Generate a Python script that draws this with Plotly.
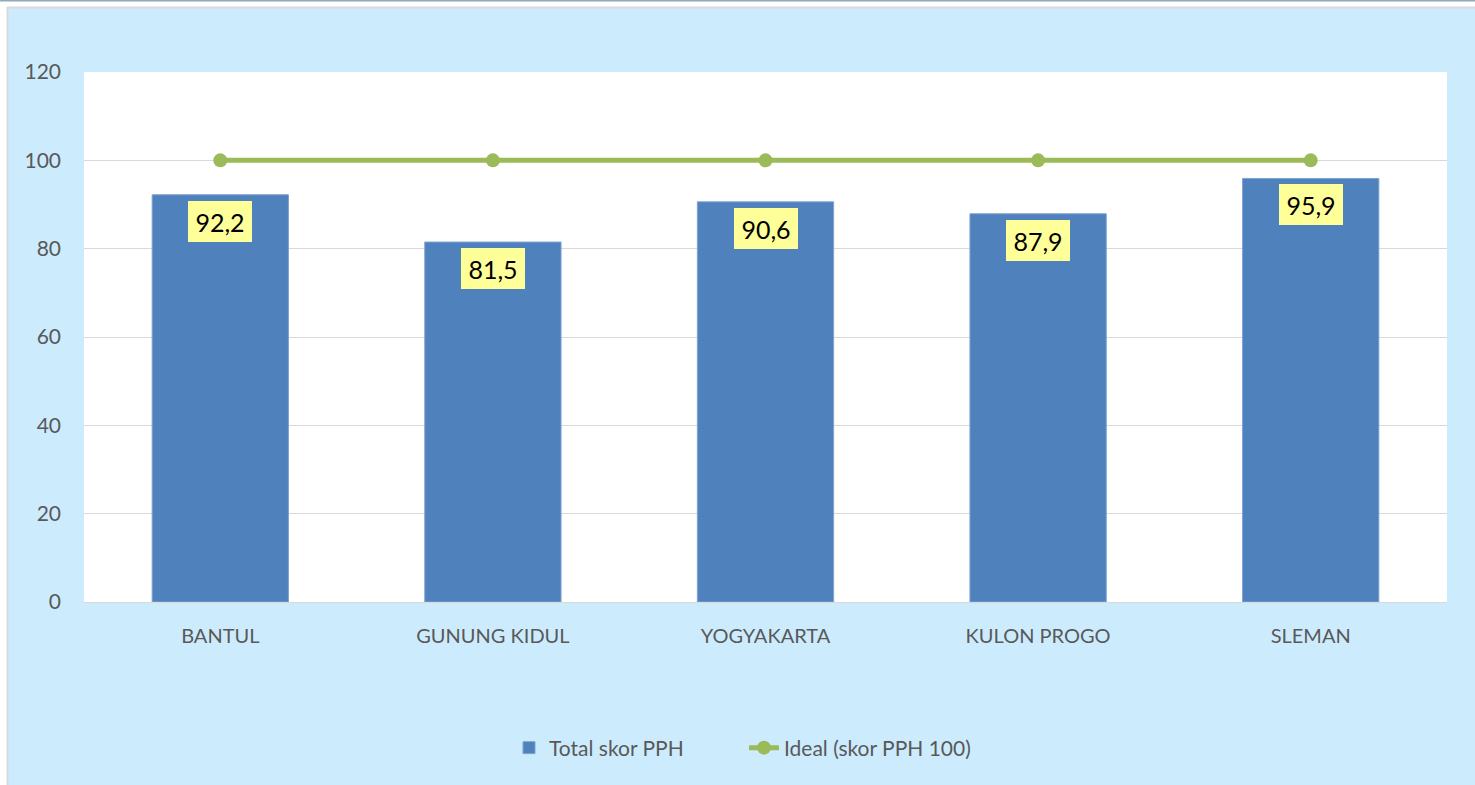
import plotly.graph_objects as go

categories = ["BANTUL", "GUNUNG KIDUL", "YOGYAKARTA", "KULON PROGO", "SLEMAN"]
total_skor = [92.2, 81.5, 90.6, 87.9, 95.9]
ideal = [100, 100, 100, 100, 100]
y_ticks = [0, 20, 40, 60, 80, 100, 120]

W, H = 1475, 785
L, R, T, B = 84, 1447, 72, 602  # plot area in pixels


def px(x):
    return (x - L) / (R - L)


def py(y):
    return (B - y) / (B - T)


FONT = "Lato, Open Sans, Liberation Sans, sans-serif"
BG = "#CCECFE"
fig = go.Figure()
fig.add_trace(go.Bar(
    x=categories, y=total_skor, name="Total skor PPH",
    marker=dict(color="#4F81BD", line=dict(color="#7FA3D1", width=1)),
    width=0.5,
))
fig.add_trace(go.Scatter(
    x=categories, y=ideal, name="Ideal (skor PPH 100)", mode="lines+markers",
    line=dict(color="#9BBB59", width=5),
    marker=dict(color="#9BBB59", size=14),
))

annotations = []
for c, v in zip(categories, total_skor):
    annotations.append(dict(
        x=c, y=v, xref="x", yref="y", text=f"{v:.1f}".replace(".", ","),
        showarrow=False, yanchor="top", yshift=-6,
        bgcolor="#FFFF99", borderpad=0, borderwidth=0, width=64, height=41,
        font=dict(family=FONT, size=25, color="#000000"),
    ))

shapes = [
    # white margin strips at top and left
    dict(type="rect", xref="paper", yref="paper", x0=px(-5), x1=px(W + 5), y0=py(7), y1=py(-5),
         fillcolor="#FFFFFF", line=dict(width=0), layer="below"),
    dict(type="rect", xref="paper", yref="paper", x0=px(-5), x1=px(7), y0=py(H + 5), y1=py(-5),
         fillcolor="#FFFFFF", line=dict(width=0), layer="below"),
    # borders
    dict(type="line", xref="paper", yref="paper", x0=px(7), x1=px(W + 5), y0=py(7.5), y1=py(7.5),
         line=dict(color="#D9D9D9", width=2)),
    dict(type="line", xref="paper", yref="paper", x0=px(7.5), x1=px(7.5), y0=py(7), y1=py(H + 5),
         line=dict(color="#D9D9D9", width=2)),
    dict(type="line", xref="paper", yref="paper", x0=px(0), x1=px(W + 5), y0=py(0.5), y1=py(0.5),
         line=dict(color="#8FAAB8", width=2)),
]

fig.update_layout(
    width=W, height=H,
    margin=dict(l=L, r=W - R, t=T, b=H - B),
    paper_bgcolor=BG, plot_bgcolor="#FFFFFF",
    font=dict(family=FONT, size=20, color="#595959"),
    showlegend=True,
    legend=dict(orientation="h", x=px(744), xanchor="center", y=py(748), yanchor="middle",
                entrywidth=190, entrywidthmode="pixels",
                font=dict(family=FONT, size=21, color="#595959"), bgcolor="rgba(0,0,0,0)"),
    bargap=0.5,
    xaxis=dict(showgrid=False, showline=True, linecolor="#D9D9D9", linewidth=1,
               ticks="", ticklabelstandoff=16, tickfont=dict(family=FONT, size=20, color="#595959")),
    yaxis=dict(range=[0, 120], tickvals=y_ticks, showgrid=True, gridcolor="#D9D9D9",
               gridwidth=1, zeroline=False, showline=False, ticks="",
               ticklabelstandoff=22, tickfont=dict(family=FONT, size=21, color="#595959")),
    annotations=annotations,
    shapes=shapes,
)

fig.write_html("out.html")
